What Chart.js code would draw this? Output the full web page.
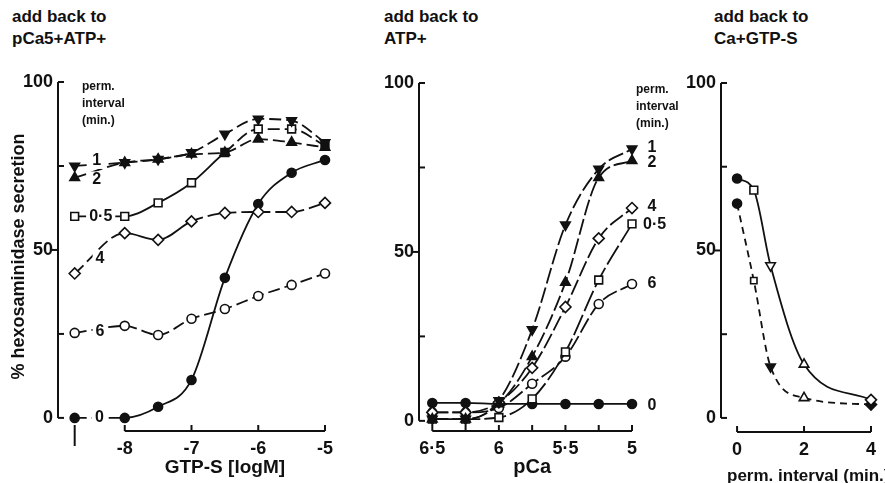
<!DOCTYPE html>
<html>
<head>
<meta charset="utf-8">
<script src="https://cdn.jsdelivr.net/npm/chart.js@4.4.0/dist/chart.umd.min.js"></script>
<style>
  body { margin: 0; background: #fff; }
  #wrap { position: relative; width: 885px; height: 483px; overflow: hidden; }
  canvas { position: absolute; left: 0; top: 0; }
  .head { position: absolute; font: bold 17px "Liberation Sans Narrow", sans-serif; line-height: 22px; color: #111; }
</style>
</head>
<body>
<div id="wrap">
  <div class="head" style="left:12px;top:6px">add back to<br>pCa5+ATP+</div>
  <div class="head" style="left:384px;top:6px">add back to<br>ATP+</div>
  <div class="head" style="left:714px;top:6px">add back to<br>Ca+GTP-S</div>
  <canvas id="c1" width="885" height="483"></canvas>
  <canvas id="c2" width="885" height="483"></canvas>
  <canvas id="c3" width="885" height="483"></canvas>
</div>
<script>
// panel 1: add back GTP-S, x = log M (first point = no GTP-S)
const gtpX = [-8.75, -8, -7.5, -7, -6.5, -6, -5.5, -5];
const gtpTicks = [-8, -7, -6, -5];
const gtpTickLabels = ["-8", "-7", "-6", "-5"];
const gtp1 = [75, 76, 77, 79, 84.5, 89, 88.5, 82];
const gtp2 = [71.5, 76, 77, 78.5, 79, 83, 82, 80.5];
const gtp05 = [60, 60, 64, 70, 79, 86, 86, 81];
const gtp4 = [43, 55, 53, 58.5, 61, 61.3, 61.3, 64];
const gtp6 = [25.3, 27.4, 24.7, 29.5, 32.4, 36.3, 39.6, 43];
const gtp0 = [0, 0, 3.3, 11.3, 41.7, 63.7, 73, 76.8];

// panel 2: add back Ca, x = pCa
const pcaX = [6.5, 6.25, 6, 5.75, 5.5, 5.25, 5];
const pcaTicks = [6.5, 6, 5.5, 5];
const pcaTickLabels = ["6·5", "6", "5·5", "5"];
const pca1 = [0.5, 0.5, 6, 27, 58, 74.5, 80.5];
const pca2 = [0.5, 0.5, 5, 19, 41, 72, 77];
const pca4 = [2.5, 2.5, 5.5, 15.7, 33.7, 54, 63];
const pca05 = [0.5, 0.5, 1, 6.5, 20.4, 41.7, 58.3];
const pca6 = [2.5, 2.5, 3.8, 11, 19, 34.6, 40.5];
const pca0 = [5.3, 5.3, 5, 5, 5, 5, 5];

// panel 3: secretion vs permeabilisation interval
const permX = [0, 0.5, 1, 2, 4];
const permTicks = [0, 2, 4];
const permSolid = [71.5, 68, 45.5, 16, 5.4];
const permDashed = [64, 41, 15.3, 6, 4];

const yTicks = [0, 50, 100];
const INK = "#111";
const WHITE = "#fff";
const FONT = "'Liberation Sans Narrow', sans-serif";
const DASH = [12, 5];

function series(xs, ys, opts) {
  return Object.assign({
    data: xs.map((x, i) => ({ x: x, y: ys[i] })),
    showLine: true,
    borderColor: INK,
    borderWidth: 1.8,
    pointBorderColor: INK,
    pointBorderWidth: 1.6,
    pointRadius: 5,
    cubicInterpolationMode: "monotone",
    clip: false,
  }, opts);
}

// dash only on the listed segments
function dashOn(idx) {
  return { borderDash: (ctx) => (idx.includes(ctx.p0DataIndex) ? DASH : []) };
}

function panelPlugin(cfg) {
  return {
    id: "panelAxes",
    afterDraw(chart) {
      const { ctx, chartArea: a, scales: { x, y } } = chart;
      ctx.save();
      ctx.strokeStyle = INK;
      ctx.lineWidth = 2;
      // y axis 0..100
      const y0 = y.getPixelForValue(0), y100 = y.getPixelForValue(100);
      ctx.beginPath();
      ctx.moveTo(a.left, y0);
      ctx.lineTo(a.left, y100);
      ctx.stroke();
      [[0, 1], [25, 1], [50, -1], [75, 1], [100, 1]].forEach(([v, dir]) => {
        const p = y.getPixelForValue(v);
        ctx.beginPath();
        ctx.moveTo(a.left, p);
        ctx.lineTo(a.left + dir * 6, p);
        ctx.stroke();
      });
      // x axis
      const xa = x.getPixelForValue(cfg.xFrom), xb = x.getPixelForValue(cfg.xTo);
      ctx.beginPath();
      ctx.moveTo(xa, a.bottom);
      ctx.lineTo(xb, a.bottom);
      ctx.stroke();
      cfg.xMarks.forEach((v) => {
        const p = x.getPixelForValue(v);
        ctx.beginPath();
        ctx.moveTo(p, a.bottom);
        ctx.lineTo(p, a.bottom - 6);
        ctx.stroke();
      });
      if (cfg.controlX !== undefined) {
        const p = x.getPixelForValue(cfg.controlX);
        ctx.beginPath();
        ctx.moveTo(p, a.bottom - 6);
        ctx.lineTo(p, a.bottom + 15);
        ctx.stroke();
      }
      // x title
      ctx.fillStyle = INK;
      ctx.textBaseline = "middle";
      ctx.font = cfg.xTitleFont;
      ctx.textAlign = cfg.xTitleAlign || "center";
      ctx.fillText(cfg.xTitle, x.getPixelForValue(cfg.xTitleAt), cfg.xTitleY);
      // series labels, knocked out of the line behind
      ctx.font = "bold 16px " + FONT;
      ctx.textAlign = "center";
      (cfg.labels || []).forEach(([t, vx, vy]) => {
        const px = x.getPixelForValue(vx), py = y.getPixelForValue(vy);
        const w = ctx.measureText(t).width;
        ctx.fillStyle = WHITE;
        ctx.fillRect(px - w / 2 - 3, py - 8, w + 6, 16);
        ctx.fillStyle = INK;
        ctx.fillText(t, px, py);
      });
      // "perm. interval (min.)" note
      if (cfg.note) {
        ctx.font = "bold 12px " + FONT;
        ctx.textAlign = "left";
        const nx = x.getPixelForValue(cfg.note.x);
        ["perm.", "interval", "(min.)"].forEach((t, i) => {
          ctx.fillText(t, nx, cfg.note.y + i * 17);
        });
      }
      ctx.restore();
    },
  };
}

function makePanel(id, o) {
  return new Chart(document.getElementById(id), {
    type: "scatter",
    data: { datasets: o.datasets },
    plugins: [panelPlugin(o.deco)],
    options: {
      responsive: false,
      animation: false,
      events: [],
      layout: { padding: o.padding },
      plugins: { legend: { display: false }, tooltip: { enabled: false } },
      scales: {
        x: {
          type: "linear",
          min: o.xMin,
          max: o.xMax,
          reverse: !!o.xReverse,
          afterBuildTicks: (s) => { s.ticks = o.xTicks.map((v) => ({ value: v })); },
          afterFit: (s) => { s.height = o.xHeight; },
          ticks: {
            padding: 7,
            color: INK,
            font: { family: FONT, size: 18, weight: "bold" },
            callback: (v, i) => o.xLabels[i],
          },
          grid: { display: false, drawTicks: false },
          border: { display: false },
        },
        y: {
          type: "linear",
          min: o.yMin,
          max: 100,
          afterBuildTicks: (s) => { s.ticks = yTicks.map((v) => ({ value: v })); },
          afterFit: (s) => { s.width = o.yWidth; },
          ticks: {
            padding: 5,
            color: INK,
            font: { family: FONT, size: 18, weight: "bold" },
          },
          grid: { display: false, drawTicks: false },
          border: { display: false },
          title: {
            display: !!o.yTitle,
            text: o.yTitle || "",
            color: INK,
            font: { family: FONT, size: 18, weight: "bold" },
            padding: { top: 8, bottom: 0 },
          },
        },
      },
    },
  });
}

const down = { pointStyle: "triangle", pointRotation: 180 };
const up = { pointStyle: "triangle" };

makePanel("c1", {
  padding: { left: 0, right: 560, top: 82, bottom: 0 },
  xMin: -9, xMax: -5, xHeight: 52, yWidth: 58, yMin: -3.9,
  xTicks: gtpTicks, xLabels: gtpTickLabels,
  yTitle: "% hexosaminidase secretion",
  datasets: [
    series(gtpX, gtp1, Object.assign({ borderDash: DASH, pointBackgroundColor: INK, pointRadius: 5.5 }, down)),
    series(gtpX, gtp2, Object.assign({ borderDash: DASH, pointBackgroundColor: INK, pointRadius: 5.5 }, up)),
    series(gtpX, gtp05, {
      pointStyle: "rect", pointRadius: 5.5,
      pointBackgroundColor: [WHITE, WHITE, WHITE, WHITE, INK, WHITE, WHITE, INK],
      segment: dashOn([0, 4, 5, 6]),
    }),
    series(gtpX, gtp4, { pointStyle: "rectRot", pointRadius: 5.5, pointBackgroundColor: WHITE, segment: dashOn([0, 3, 4, 5, 6]) }),
    series(gtpX, gtp6, { pointStyle: "circle", pointRadius: 4.5, pointBackgroundColor: WHITE, borderDash: DASH }),
    series(gtpX, gtp0, { pointStyle: "circle", pointRadius: 4.5, pointBackgroundColor: INK, segment: dashOn([0]) }),
  ],
  deco: {
    xFrom: -8, xTo: -5, xMarks: gtpTicks, controlX: -8.75,
    xTitle: "GTP-S [logM]", xTitleAt: -6.5, xTitleY: 468, xTitleFont: "bold 19px " + FONT,
    labels: [["1", -8.42, 76.5], ["2", -8.42, 71], ["0·5", -8.36, 60], ["4", -8.37, 47.5], ["6", -8.37, 25.6], ["0", -8.38, 0]],
    note: { x: -8.64, y: 87 },
  },
});

makePanel("c2", {
  padding: { left: 359, right: 253, top: 83, bottom: 0 },
  xMin: 5, xMax: 6.6, xReverse: true, xHeight: 52, yWidth: 60, yMin: -3,
  xTicks: pcaTicks, xLabels: pcaTickLabels,
  datasets: [
    series(pcaX, pca1, Object.assign({ borderDash: [16, 4], pointBackgroundColor: INK, pointRadius: 5.5 }, down)),
    series(pcaX, pca2, Object.assign({ borderDash: [16, 4], pointBackgroundColor: INK, pointRadius: 5.5 }, up)),
    series(pcaX, pca4, { pointStyle: "rectRot", pointRadius: 5.5, pointBackgroundColor: WHITE, borderDash: [16, 4] }),
    series(pcaX, pca05, { pointStyle: "rect", pointRadius: 5.5, pointBackgroundColor: WHITE, borderDash: [22, 4] }),
    series(pcaX, pca6, { pointStyle: "circle", pointRadius: 4.5, pointBackgroundColor: WHITE, borderDash: [16, 4] }),
    series(pcaX, pca0, { pointStyle: "circle", pointRadius: 4.5, pointBackgroundColor: INK }),
  ],
  deco: {
    xFrom: 6.5, xTo: 5, xMarks: [6.5, 6.25, 6, 5.75, 5.5, 5.25, 5],
    xTitle: "pCa", xTitleAt: 5.75, xTitleY: 467, xTitleFont: "bold 20px " + FONT,
    labels: [["1", 4.85, 81], ["2", 4.85, 76.5], ["4", 4.85, 63.5], ["0·5", 4.83, 58], ["6", 4.85, 40.5], ["0", 4.85, 4.5]],
    note: { x: 4.97, y: 90 },
  },
});

makePanel("c3", {
  padding: { left: 661, right: 14, top: 83, bottom: 0 },
  xMin: -0.48, xMax: 4, xHeight: 51, yWidth: 60, yMin: -4.2,
  xTicks: permTicks, xLabels: ["0", "2", "4"],
  datasets: [
    series(permX, permSolid, {
      pointStyle: ["circle", "rect", "triangle", "triangle", "rectRot"],
      pointRotation: [0, 0, 180, 0, 0],
      pointRadius: [4.5, 5.5, 5.5, 5.5, 5.5],
      pointBackgroundColor: [INK, WHITE, WHITE, WHITE, WHITE],
    }),
    series(permX, permDashed, {
      borderDash: [7, 5],
      pointStyle: ["circle", "rect", "triangle", "triangle", "rectRot"],
      pointRotation: [0, 0, 180, 0, 0],
      pointRadius: [4.5, 4.5, 5.5, 5.5, 5.5],
      pointBackgroundColor: [INK, WHITE, INK, WHITE, INK],
    }),
  ],
  deco: {
    xFrom: 0, xTo: 4, xMarks: permTicks,
    xTitle: "perm. interval (min.)", xTitleAt: -0.3, xTitleY: 476, xTitleAlign: "left",
    xTitleFont: "bold 17px " + FONT,
  },
});
</script>
</body>
</html>
